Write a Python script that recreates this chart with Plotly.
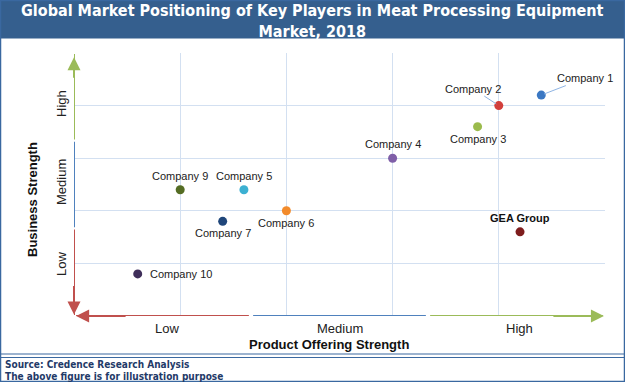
import plotly.graph_objects as go

# ---- data ----
companies = ["Company 1", "Company 2", "Company 3", "Company 4", "Company 5",
             "Company 6", "Company 7", "Company 9", "Company 10", "GEA Group"]
product_strength = [4.4, 4.0, 3.8, 3.0, 1.6, 2.0, 1.4, 1.0, 0.6, 4.2]
business_strength = [4.2, 4.0, 3.6, 3.0, 2.4, 2.0, 1.8, 2.4, 0.8, 1.6]
colors = ["#3b78c3", "#d23f3c", "#9bbb4c", "#7f5fa8", "#3cb0d2",
          "#f28b2c", "#1f467a", "#546c23", "#3f2e5a", "#7e1d1d"]
tick_labels = ["Low", "Medium", "High"]
title_text = "Global Market Positioning of Key Players in Meat Processing Equipment<br>Market, 2018"
x_title = "Product Offering Strength"
y_title = "Business Strength"
footer_lines = ["Source: Credence Research Analysis", "The above figure is for illustration purpose"]

# ---- layout geometry (pixels) ----
W, H = 625, 382
L, R, T, B = 74, 605, 53, 316


def px(xp):
    return (xp - L) / (R - L)


def py(yp):
    return (B - yp) / (B - T)


label_pos = {
    "Company 3": "bottom center", "Company 4": "top center", "Company 5": "top center",
    "Company 6": "bottom center", "Company 7": "bottom center", "Company 9": "top center",
    "Company 10": "middle right", "GEA Group": "top center",
}
arrow_labels = {"Company 1": (44, -17), "Company 2": (-26, -17)}

fig = go.Figure()

lab_font = dict(family="Liberation Sans", size=11, color="#222222")

for n, xv, yv, c in zip(companies, product_strength, business_strength, colors):
    fig.add_trace(go.Scatter(
        x=[xv], y=[yv], mode="markers",
        marker=dict(size=9, color=c, line=dict(width=0)),
        showlegend=False, hoverinfo="text", hovertext=n,
    ))
    if n in arrow_labels:
        ax, ay = arrow_labels[n]
        fig.add_annotation(x=xv, y=yv, text=n, showarrow=True, arrowhead=0,
                           arrowwidth=1, arrowcolor="#8fb4e3", ax=ax, ay=ay,
                           standoff=3, font=lab_font)
    else:
        pos = label_pos[n]
        f = dict(lab_font)
        txt = n
        if n == "GEA Group":
            txt = "<b>%s</b>" % n
            f["color"] = "#111111"
        if pos == "top center":
            fig.add_annotation(x=xv, y=yv, text=txt, showarrow=False, yanchor="bottom",
                               yshift=6, font=f)
        elif pos == "bottom center":
            fig.add_annotation(x=xv, y=yv, text=txt, showarrow=False, yanchor="top",
                               yshift=-4, font=f)
        else:
            fig.add_annotation(x=xv, y=yv, text=txt, showarrow=False, xanchor="left",
                               xshift=10, font=f)

shapes = []
# title bar
shapes.append(dict(type="rect", xref="paper", yref="paper", x0=px(0), x1=px(W),
                   y0=py(0), y1=py(38.5), fillcolor="#355f8e", line=dict(width=0), layer="below"))
# outer frame
shapes.append(dict(type="rect", xref="paper", yref="paper", x0=px(0.5), x1=px(W - 0.5),
                   y0=py(0.5), y1=py(H - 0.5), line=dict(color="#3a68a0", width=1.5)))
# footer separator double line
for yy in (354, 357.5):
    shapes.append(dict(type="line", xref="paper", yref="paper", x0=px(0), x1=px(W),
                       y0=py(yy), y1=py(yy), line=dict(color="#3a68a0", width=1.2)))

# axis segments (colored thirds)
seg_cols = ["#c0504d", "#4f81bd", "#9bbb59"]
for i, c in enumerate(seg_cols):
    a, b = i * 5 / 3, (i + 1) * 5 / 3
    shapes.append(dict(type="line", xref="x", yref="y", x0=a + 0.02, x1=b - 0.02, y0=0, y1=0,
                       line=dict(color=c, width=2)))
    shapes.append(dict(type="line", xref="x", yref="y", x0=0, x1=0, y0=a + 0.02, y1=b - 0.02,
                       line=dict(color=c, width=2)))
fig.update_layout(shapes=shapes)

# arrow heads
for (hx, hy, tx, ty, c) in [(0.02, 0, 0.5, 0, "#c0504d"), (4.99, 0, 4.5, 0, "#9bbb59"),
                            (0, 0.03, 0, 0.6, "#c0504d"), (0, 4.92, 0, 4.5, "#9bbb59")]:
    fig.add_annotation(x=hx, y=hy, ax=tx, ay=ty, axref="x", ayref="y", xref="x", yref="y",
                       text="", showarrow=True, arrowhead=2, arrowsize=1.3, arrowwidth=2,
                       arrowcolor=c)

# tick labels
tick_font = dict(family="Liberation Sans", size=13, color="#222222")
x_tick_px = [167, 340, 519]
y_tick_px = [264, 182, 104]
for t, xp, yp in zip(tick_labels, x_tick_px, y_tick_px):
    fig.add_annotation(x=px(xp), y=py(328), xref="paper", yref="paper", text=t,
                       showarrow=False, font=tick_font, xanchor="center", yanchor="middle")
    fig.add_annotation(x=px(61), y=py(yp), xref="paper", yref="paper", text=t,
                       showarrow=False, font=tick_font, textangle=-90,
                       xanchor="center", yanchor="middle")

# axis titles
fig.add_annotation(x=px(329), y=py(344), xref="paper", yref="paper", text="<b>%s</b>" % x_title,
                   showarrow=False, xanchor="center", yanchor="middle",
                   font=dict(family="Liberation Sans", size=13, color="#111111"))
fig.add_annotation(x=px(32), y=py(200), xref="paper", yref="paper", text="<b>%s</b>" % y_title,
                   showarrow=False, textangle=-90, xanchor="center", yanchor="middle",
                   font=dict(family="Liberation Sans", size=13, color="#111111"))

# title
fig.add_annotation(x=px(W / 2), y=py(21), xref="paper", yref="paper", text="<b>%s</b>" % title_text,
                   showarrow=False, xanchor="center", yanchor="middle",
                   font=dict(family="DejaVu Sans Condensed", size=16, color="white"))

# footer
for j, line in enumerate(footer_lines):
    fig.add_annotation(x=px(3), y=py(364 + 12 * j), xref="paper", yref="paper",
                       text="<b>%s</b>" % line, showarrow=False, xanchor="left",
                       yanchor="middle",
                       font=dict(family="DejaVu Sans Condensed", size=10, color="#1f3a68"))

fig.update_layout(
    width=W, height=H,
    margin=dict(l=L, r=W - R, t=T, b=H - B, pad=0),
    paper_bgcolor="white", plot_bgcolor="white",
    xaxis=dict(range=[0, 5], dtick=1, showgrid=True, gridcolor="#d3e0f1", gridwidth=1,
               showticklabels=False, zeroline=False, showline=False, fixedrange=True),
    yaxis=dict(range=[0, 5], dtick=1, showgrid=True, gridcolor="#d3e0f1", gridwidth=1,
               showticklabels=False, zeroline=False, showline=False, fixedrange=True),
)

fig.write_html("out.html", config={"displayModeBar": False},
               post_script="document.body.style.margin='0';document.body.style.overflow='hidden';")
